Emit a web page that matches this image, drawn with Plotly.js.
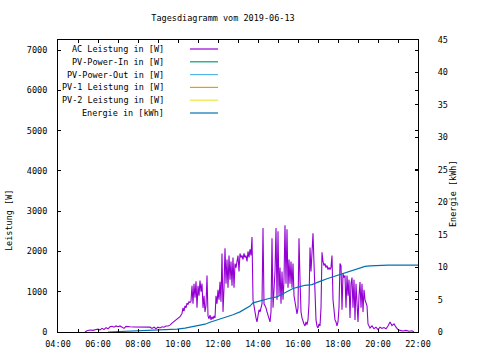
<!DOCTYPE html>
<html><head><meta charset="utf-8">
<script src="https://cdn.plot.ly/plotly-3.0.1.min.js"></script>
<style>html,body{margin:0;padding:0;background:#fff}#chart{width:480px;height:360px}</style>
</head><body><div id="chart"></div>
<script>
const DAY = "2019-06-13";
const chartTitle = "Tagesdiagramm vom 2019-06-13";
const seriesNames = ["AC Leistung in [W]","PV-Power-In in [W]","PV-Power-Out in [W]","PV-1 Leistung in [W]","PV-2 Leistung in [W]","Energie in [kWh]"];
const seriesColors = ["#9400d3","#009e73","#56b4e9","#e69f00","#f0e442","#0072b2"];

const acTimes = ["05:21","05:27","05:36","05:45","05:54","06:00","06:06","06:12","06:18","06:24","06:30","06:36","06:42","06:48","06:54","07:00","07:06","07:12","07:18","07:24","07:30","07:36","07:48","08:00","08:12","08:24","08:36","08:42","08:48","08:54","09:00","09:06","09:12","09:18","09:24","09:30","09:36","09:42","09:48","09:54","10:00","10:06","10:12",
"10:15","10:18","10:21","10:24","10:27","10:30","10:33","10:36","10:39","10:42","10:45","10:48","10:51","10:54","10:57","11:00","11:03","11:06","11:09","11:12","11:15","11:18","11:21","11:24","11:27","11:30","11:33","11:36","11:39","11:42","11:45","11:48","11:51","11:54","11:57",
"12:00","12:03","12:06","12:09","12:12","12:15","12:18","12:21","12:24","12:27","12:30","12:33","12:36","12:39","12:42","12:45","12:48","12:51","12:54","12:57",
"13:00","13:03","13:06","13:09","13:12","13:15","13:18","13:21","13:24","13:27","13:30","13:33","13:36","13:39","13:42","13:45","13:48","13:51","13:54","13:57",
"14:00","14:03","14:06","14:09","14:12","14:15","14:18","14:21","14:24","14:27","14:30","14:33","14:36","14:39","14:42","14:45","14:48","14:51","14:54","14:57",
"15:00","15:03","15:06","15:09","15:12","15:15","15:18","15:21","15:24","15:27","15:30","15:33","15:36","15:39","15:42","15:45","15:48","15:51","15:54","15:57",
"16:00","16:03","16:06","16:09","16:12","16:15","16:18","16:21","16:24","16:27","16:30","16:33","16:36","16:39","16:42","16:45","16:48","16:51","16:54","16:57",
"17:00","17:03","17:06","17:09","17:12","17:15","17:18","17:21","17:24","17:27","17:30","17:33","17:36","17:39","17:42","17:45","17:48","17:51","17:54","17:57",
"18:00","18:03","18:06","18:09","18:12","18:15","18:18","18:21","18:24","18:27","18:30","18:33","18:36","18:39","18:42","18:45","18:48","18:51","18:54","18:57",
"19:00","19:03","19:06","19:09","19:12","19:15","19:18","19:21","19:24","19:27","19:30","19:33","19:36","19:42","19:48","19:54",
"20:00","20:06","20:12","20:18","20:24","20:30","20:36","20:42","20:48","20:54","21:00","21:06","21:15","21:24","21:33","21:42","21:48"];
const acPower = [0,30,50,40,60,70,50,90,60,110,80,130,140,120,150,130,150,110,90,140,130,130,125,125,125,120,120,90,120,80,120,100,130,120,150,150,170,220,260,300,340,380,460,
600,520,650,600,720,680,750,730,760,1150,700,1200,850,1260,600,1150,900,1280,1000,1200,600,900,500,650,1400,400,330,420,300,380,320,400,350,900,700,
1050,800,1250,750,1950,500,1100,2080,1200,1800,1100,1900,1300,1750,1150,1850,1100,1700,1600,1800,
1900,1500,1950,1850,1900,1800,1950,1850,1900,1750,2000,1850,2050,1900,2360,800,600,450,350,250,
400,550,500,650,700,2580,700,650,600,500,400,300,250,500,2330,600,1000,1500,2580,800,
2500,900,1600,700,1500,800,1300,2650,1200,2550,1100,1800,1200,1750,1100,1700,900,700,500,450,
600,2330,1300,500,350,250,200,150,250,180,300,700,2100,1500,2200,2450,1700,800,300,150,
100,200,150,600,1980,1750,1650,1700,1600,1650,1550,1600,1550,1600,1900,800,400,300,250,150,
250,600,1700,1650,550,1450,1350,1400,600,1400,900,1300,350,1200,1350,600,1300,300,1200,500,
250,900,1240,600,1200,500,1050,800,700,650,200,150,100,150,80,120,
60,120,90,110,80,150,250,160,200,120,60,40,25,40,20,30,0];

const energyTimes = ["06:30","07:42","09:00","09:36","09:57","10:21","10:45","11:06","11:21","11:36","11:51","12:06","12:27","12:45","13:06","13:21","13:36","13:45","14:06","14:21","14:36","14:57","15:21","15:45","16:06","16:21","16:42","16:54","17:06","17:27","17:45","18:00","18:15","18:30","18:42","18:54","19:06","19:21","19:36","20:30","22:00"];
const energyKWh = [0,0.15,0.25,0.35,0.45,0.6,0.8,1.0,1.2,1.5,1.75,2.0,2.3,2.65,3.1,3.5,4.0,4.5,4.8,5.0,5.2,5.4,6.0,6.7,7.0,7.2,7.3,7.5,7.8,8.2,8.5,8.75,9.05,9.25,9.45,9.7,9.85,10.1,10.2,10.3,10.3];

const toDate = t => DAY + " " + t;
const FONT = {family: "DejaVu Sans Mono", size: 8.5, color: "#000"};

const traces = [
  {x: acTimes.map(toDate), y: acPower, type: "scatter", mode: "lines", name: seriesNames[0], line: {color: seriesColors[0], width: 1.1}},
  {x: [], y: [], type: "scatter", mode: "lines", name: seriesNames[1], line: {color: seriesColors[1], width: 1}},
  {x: [], y: [], type: "scatter", mode: "lines", name: seriesNames[2], line: {color: seriesColors[2], width: 1}},
  {x: [], y: [], type: "scatter", mode: "lines", name: seriesNames[3], line: {color: seriesColors[3], width: 1}},
  {x: [], y: [], type: "scatter", mode: "lines", name: seriesNames[4], line: {color: seriesColors[4], width: 1}},
  {x: energyTimes.map(toDate), y: energyKWh, type: "scatter", mode: "lines", name: seriesNames[5], yaxis: "y2", line: {color: seriesColors[5], width: 1.2}}
];

const L = 58, R = 418, T = 40, B = 332;
const px2x = p => (p - L) / (R - L);
const py2y = p => (B - p) / (B - T);

const annotations = [
  {xref: "paper", yref: "paper", x: px2x(9), y: py2y(221), text: "Leistung [W]", textangle: -90, showarrow: false, font: FONT, xanchor: "center", yanchor: "middle"},
  {xref: "paper", yref: "paper", x: px2x(453), y: py2y(194), text: "Energie [kWh]", textangle: -90, showarrow: false, font: FONT, xanchor: "center", yanchor: "middle"}
];
const shapes = [];
seriesNames.forEach((n, i) => {
  const yy = py2y(49 + i * 12.8);
  annotations.push({xref: "paper", yref: "paper", x: px2x(166), y: yy, text: n, showarrow: false, font: FONT, xanchor: "right", yanchor: "middle"});
  shapes.push({type: "line", xref: "paper", yref: "paper", x0: px2x(190), x1: px2x(218), y0: yy, y1: yy, line: {color: seriesColors[i], width: 1.2}});
});

const layout = {
  width: 480, height: 360,
  margin: {l: L, r: 480 - R, t: T, b: 360 - B, pad: 0},
  paper_bgcolor: "#fff", plot_bgcolor: "#fff",
  font: FONT,
  showlegend: false,
  title: {text: chartTitle, font: FONT, x: 223 / 480, xanchor: "center", y: 1 - 18 / 360, yanchor: "middle"},
  xaxis: {
    type: "date", range: [toDate("04:00"), toDate("22:00")],
    tick0: toDate("04:00"), dtick: 7200000, tickformat: "%H:%M",
    ticks: "inside", ticklen: 3, tickcolor: "#000", mirror: "ticks",
    showline: true, linecolor: "#000", linewidth: 1, showgrid: false, zeroline: false,
    minor: {dtick: 3600000, ticks: "inside", ticklen: 3, tickcolor: "#000", showgrid: false},
    tickfont: FONT, ticklabelstandoff: 4
  },
  yaxis: {
    range: [0, 7250], dtick: 1000, tick0: 0,
    ticks: "inside", ticklen: 3, tickcolor: "#000", mirror: "ticks",
    showline: true, linecolor: "#000", linewidth: 1, showgrid: false, zeroline: false,
    tickfont: FONT, ticklabelstandoff: 8
  },
  yaxis2: {
    overlaying: "y", side: "right", range: [0, 45], dtick: 5, tick0: 0,
    ticks: "inside", ticklen: 3, tickcolor: "#000",
    showline: true, linecolor: "#000", linewidth: 1, showgrid: false, zeroline: false,
    tickfont: FONT, ticklabelstandoff: 17
  },
  annotations: annotations,
  shapes: shapes
};

Plotly.newPlot("chart", traces, layout, {displayModeBar: false, staticPlot: true});
</script>
</body></html>
